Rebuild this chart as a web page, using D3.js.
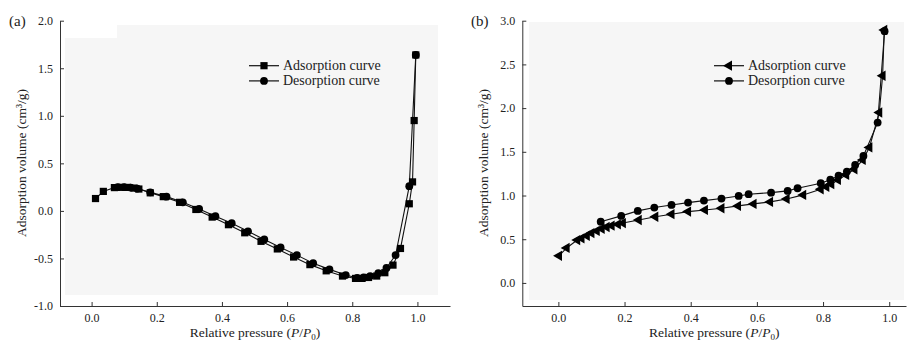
<!DOCTYPE html>
<html>
<head>
<meta charset="utf-8">
<script src="https://cdn.jsdelivr.net/npm/d3@7"></script>
<style>
  body { margin: 0; background: #fff; }
  svg { display: block; font-family: "Liberation Serif", "Times New Roman", serif; }
  .axis path, .axis line { stroke: #333; }
  .axis text { font-size: 12px; fill: #222; font-family: "Liberation Serif", serif; }
</style>
</head>
<body>
<svg id="chart" width="909" height="343"></svg>
<script>
// tick labels
const xTicks = [0.0, 0.2, 0.4, 0.6, 0.8, 1.0];
const yTicksA = [-1.0, -0.5, 0.0, 0.5, 1.0, 1.5, 2.0];
const yTicksB = [0.0, 0.5, 1.0, 1.5, 2.0, 2.5, 3.0];
const legendLabels = ['Adsorption curve', 'Desorption curve'];

// panel (a): [P/P0, volume]
const adsorptionA = [
  [0.012, 0.13], [0.036, 0.205], [0.07, 0.245], [0.09, 0.248], [0.11, 0.247], [0.13, 0.24],
  [0.145, 0.23], [0.18, 0.19], [0.22, 0.15], [0.27, 0.09], [0.32, 0.015], [0.37, -0.065],
  [0.42, -0.145], [0.47, -0.23], [0.52, -0.32], [0.57, -0.40], [0.62, -0.485], [0.67, -0.565],
  [0.72, -0.63], [0.77, -0.685], [0.81, -0.71], [0.83, -0.71], [0.85, -0.70], [0.875, -0.685],
  [0.90, -0.65], [0.925, -0.57], [0.948, -0.395], [0.975, 0.075], [0.985, 0.305],
  [0.99, 0.95], [0.995, 1.64]
];
const desorptionA = [
  [0.995, 1.64], [0.975, 0.26], [0.933, -0.465], [0.905, -0.60], [0.88, -0.655], [0.855, -0.685],
  [0.835, -0.70], [0.815, -0.705], [0.78, -0.675], [0.73, -0.615], [0.68, -0.55], [0.63, -0.465],
  [0.58, -0.385], [0.53, -0.30], [0.48, -0.215], [0.43, -0.13], [0.38, -0.055], [0.33, 0.02],
  [0.28, 0.09], [0.23, 0.15], [0.18, 0.195], [0.14, 0.235], [0.12, 0.245], [0.10, 0.25], [0.08, 0.25]
];

// panel (b)
const adsorptionB = [
  [0.002, 0.31], [0.025, 0.40], [0.057, 0.49], [0.07, 0.51], [0.086, 0.54], [0.10, 0.57],
  [0.116, 0.595], [0.131, 0.62], [0.146, 0.64], [0.161, 0.655], [0.18, 0.67], [0.195, 0.685],
  [0.243, 0.72], [0.293, 0.757], [0.342, 0.786], [0.392, 0.816], [0.443, 0.835], [0.493, 0.854],
  [0.543, 0.881], [0.59, 0.904], [0.64, 0.927], [0.69, 0.961], [0.74, 1.007], [0.793, 1.072],
  [0.81, 1.10], [0.825, 1.13], [0.845, 1.178], [0.87, 1.236], [0.895, 1.30], [0.92, 1.407],
  [0.94, 1.55], [0.97, 1.95], [0.98, 2.37], [0.985, 2.895]
];
const desorptionB = [
  [0.986, 2.88], [0.965, 1.834], [0.922, 1.453], [0.897, 1.35], [0.872, 1.274], [0.847, 1.228],
  [0.822, 1.18], [0.793, 1.14], [0.723, 1.083], [0.693, 1.053], [0.643, 1.033], [0.575, 1.015],
  [0.545, 0.995], [0.493, 0.965], [0.44, 0.942], [0.392, 0.919], [0.342, 0.892], [0.29, 0.862],
  [0.24, 0.824], [0.19, 0.767], [0.128, 0.70]
];

const svg = d3.select('#chart');

function drawPanel(p) {
  const g = svg.append('g');
  const x = d3.scaleLinear().domain(p.xDomain).range(p.xRange);
  const y = d3.scaleLinear().domain(p.yDomain).range([306, 20.7]);

  g.append('rect')
    .attr('x', p.bg[0]).attr('y', p.bg[1])
    .attr('width', p.bg[2] - p.bg[0]).attr('height', p.bg[3] - p.bg[1])
    .attr('fill', '#f6f6f6');
  if (p.whiteBox) {
    g.append('rect').attr('x', p.whiteBox[0]).attr('y', p.whiteBox[1])
      .attr('width', p.whiteBox[2]).attr('height', p.whiteBox[3]).attr('fill', '#fff');
  }

  g.append('g').attr('class', 'axis')
    .attr('transform', 'translate(0,306)')
    .call(d3.axisBottom(x).tickValues(xTicks).tickFormat(d3.format('.1f'))
      .tickSizeInner(-4).tickSizeOuter(0).tickPadding(7));

  g.append('g').attr('class', 'axis')
    .attr('transform', `translate(${p.xRange[0]},0)`)
    .call(d3.axisLeft(y).tickValues(p.yTicks).tickFormat(d3.format('.1f'))
      .tickSizeInner(-4).tickSizeOuter(0).tickPadding(7));

  g.selectAll('.axis text').text(function () { return this.textContent.replace('−', '-'); });

  const line = d3.line().x(d => x(d[0])).y(d => y(d[1]));
  [p.ads, p.des].forEach(s => {
    g.append('path').datum(s)
      .attr('fill', 'none').attr('stroke', '#111').attr('stroke-width', 1.1)
      .attr('d', line);
  });

  const sym = {
    square: d3.symbol().type(d3.symbolSquare).size(52),
    circle: d3.symbol().type(d3.symbolCircle).size(48),
    triangle: d3.symbol().type(d3.symbolTriangle).size(46)
  };
  const rot = t => t === 'triangle' ? ' rotate(-90)' : '';

  [[p.ads, p.adsMarker], [p.des, 'circle']].forEach(([s, t]) => {
    g.selectAll(null).data(s).enter().append('path')
      .attr('d', sym[t]())
      .attr('transform', d => `translate(${x(d[0])},${y(d[1])})${rot(t)}`)
      .attr('fill', '#000');
  });

  // legend
  [p.adsMarker, 'circle'].forEach((t, i) => {
    const ly = 65.7 + i * 15.2;
    g.append('line')
      .attr('x1', p.legendX).attr('x2', p.legendX + 30)
      .attr('y1', ly).attr('y2', ly)
      .attr('stroke', '#111').attr('stroke-width', 1.2);
    g.append('path').attr('d', sym[t]())
      .attr('transform', `translate(${p.legendX + 15},${ly})${rot(t)}`)
      .attr('fill', '#000');
    g.append('text')
      .attr('x', p.legendX + 34).attr('y', ly + 4.5)
      .attr('font-size', 14).attr('fill', '#222')
      .text(legendLabels[i]);
  });

  // panel label
  g.append('text').attr('x', p.labelX).attr('y', 26)
    .attr('font-size', 15).attr('fill', '#222').text(p.label);

  // y title
  g.append('text')
    .attr('transform', `translate(${p.yTitleX},163) rotate(-90)`)
    .attr('text-anchor', 'middle').attr('font-size', 13.5).attr('fill', '#222')
    .text('Adsorption volume (cm³/g)');

  // x title
  const xt = g.append('text')
    .attr('x', (p.xRange[0] + p.xRange[1]) / 2).attr('y', 337)
    .attr('text-anchor', 'middle').attr('font-size', 13.5).attr('fill', '#222');
  xt.append('tspan').text('Relative pressure (');
  xt.append('tspan').attr('font-style', 'italic').text('P');
  xt.append('tspan').text('/');
  xt.append('tspan').attr('font-style', 'italic').text('P');
  xt.append('tspan').attr('font-size', 9).attr('dy', 3).text('0');
  xt.append('tspan').attr('dy', -3).text(')');
}

drawPanel({
  label: '(a)', labelX: 9,
  xDomain: [-0.097, 1.1], xRange: [60, 450],
  yDomain: [-1.0, 2.0], yTicks: yTicksA,
  bg: [65, 25, 438, 295], whiteBox: [65, 25, 52, 13],
  ads: adsorptionA, des: desorptionA, adsMarker: 'square',
  legendX: 249, yTitleX: 26
});

drawPanel({
  label: '(b)', labelX: 471,
  xDomain: [-0.109, 1.0507], xRange: [522.3, 906],
  yDomain: [-0.264, 3.0], yTicks: yTicksB,
  bg: [529, 22, 904, 300],
  ads: adsorptionB, des: desorptionB, adsMarker: 'triangle',
  legendX: 714, yTitleX: 488
});
</script>
</body>
</html>
